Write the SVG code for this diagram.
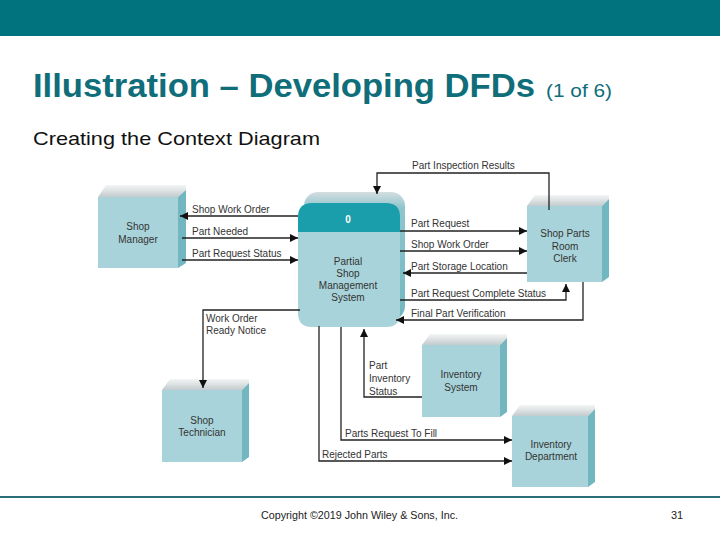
<svg xmlns="http://www.w3.org/2000/svg" width="720" height="540" viewBox="0 0 720 540">
<style>
.lbl{font-family:"Liberation Sans",Arial,sans-serif;font-size:10px;fill:#333}
.ntx{font-family:"Liberation Sans",Arial,sans-serif;font-size:10px;fill:#333;text-anchor:middle}
.front{fill:#A9D3DA}
.side{fill:#72B6C0}
.top{fill:url(#topg)}
.flow{fill:none;stroke:#222;stroke-width:1.3;marker-end:url(#ah)}
</style>
<defs>
<linearGradient id="topg" x1="0" y1="0" x2="0" y2="1">
<stop offset="0" stop-color="#F4F6F6"/>
<stop offset="1" stop-color="#C3CBCD"/>
</linearGradient>
<linearGradient id="procback" x1="0" y1="0" x2="0" y2="1">
<stop offset="0" stop-color="#D5DEE0"/>
<stop offset="0.12" stop-color="#8FC6CE"/>
<stop offset="1" stop-color="#72B6C0"/>
</linearGradient>
<marker id="ah" markerUnits="userSpaceOnUse" markerWidth="9" markerHeight="8" refX="8" refY="4" orient="auto">
<path d="M0,0 L8,4 L0,8 Z" fill="#111"/>
</marker>
</defs>
<rect x="0" y="0" width="720" height="36" fill="#00737F"/>
<text x="33" y="97" font-family="Liberation Sans,Arial,sans-serif" font-weight="bold" font-size="34" fill="#0F6E7A" textLength="502" lengthAdjust="spacingAndGlyphs">Illustration – Developing DFDs</text>
<text x="546" y="97" font-family="Liberation Sans,Arial,sans-serif" font-size="19" fill="#0F6E7A" textLength="66" lengthAdjust="spacingAndGlyphs">(1 of 6)</text>
<text x="33" y="145" font-family="Liberation Sans,Arial,sans-serif" font-size="19" fill="#111" textLength="287" lengthAdjust="spacingAndGlyphs">Creating the Context Diagram</text>

<g id="shop-manager">
<polygon class="top" points="98,197 106,185 186,185 186,190 178,197"/>
<polygon class="side" points="178,197 186,190 186,263 178,268"/>
<rect class="front" x="98" y="197" width="80" height="71"/>
<text class="ntx" x="138" y="230">Shop</text>
<text class="ntx" x="138" y="243">Manager</text>
</g>

<g id="process-0">
<rect x="304" y="192" width="101" height="128" rx="14" fill="url(#procback)"/>
<path d="M298,232 V217 Q298,203 312,203 H386 Q400,203 400,217 V232 Z" fill="#1B9EAB"/>
<path d="M298,232 H400 V313 Q400,327 386,327 H312 Q298,327 298,313 Z" fill="#A9D3DA"/>
<text x="348" y="223" font-family="Liberation Sans,Arial,sans-serif" font-size="10" font-weight="bold" fill="#fff" text-anchor="middle">0</text>
<text class="ntx" x="348" y="265">Partial</text>
<text class="ntx" x="348" y="277">Shop</text>
<text class="ntx" x="348" y="289">Management</text>
<text class="ntx" x="348" y="301">System</text>
</g>

<g id="shop-parts-room-clerk">
<polygon class="top" points="527,206 535,195 609,195 609,199 602,206"/>
<polygon class="side" points="602,206 609,199 609,277 602,282"/>
<rect class="front" x="527" y="206" width="75" height="76"/>
<text class="ntx" x="565" y="237">Shop Parts</text>
<text class="ntx" x="565" y="250">Room</text>
<text class="ntx" x="565" y="262">Clerk</text>
</g>

<g id="inventory-system">
<polygon class="top" points="422,345 430,334 507,334 507,338 500,345"/>
<polygon class="side" points="500,345 507,338 507,412 500,417"/>
<rect class="front" x="422" y="345" width="78" height="72"/>
<text class="ntx" x="461" y="378">Inventory</text>
<text class="ntx" x="461" y="391">System</text>
</g>

<g id="inventory-department">
<polygon class="top" points="512,416 520,405 595,405 595,409 588,416"/>
<polygon class="side" points="588,416 595,409 595,482 588,487"/>
<rect class="front" x="512" y="416" width="76" height="71"/>
<text class="ntx" x="551" y="448">Inventory</text>
<text class="ntx" x="551" y="460">Department</text>
</g>

<g id="shop-technician">
<polygon class="top" points="162,390 170,379 249,379 249,383 242,390"/>
<polygon class="side" points="242,390 249,383 249,457 242,462"/>
<rect class="front" x="162" y="390" width="80" height="72"/>
<text class="ntx" x="202" y="424">Shop</text>
<text class="ntx" x="202" y="436">Technician</text>
</g>

<g id="connectors">
<polyline class="flow" points="549,210 549,173 377,173 377,194"/>
<polyline class="flow" points="298,216 180,216"/>
<polyline class="flow" points="182,238 298,238"/>
<polyline class="flow" points="182,260 298,260"/>
<polyline class="flow" points="400,231 527,231"/>
<polyline class="flow" points="400,251 527,251"/>
<polyline class="flow" points="527,273 403,273"/>
<polyline class="flow" points="400,300 566,300 566,284"/>
<polyline class="flow" points="583,282 583,320 396,320"/>
<polyline class="flow" points="300,310 203,310 203,388"/>
<polyline class="flow" points="422,397 364,397 364,329"/>
<polyline class="flow" points="341,327 341,440 512,440"/>
<polyline class="flow" points="319,326 319,461 512,461"/>
<text class="lbl" x="412" y="169">Part Inspection Results</text>
<text class="lbl" x="192" y="213">Shop Work Order</text>
<text class="lbl" x="192" y="235">Part Needed</text>
<text class="lbl" x="192" y="257">Part Request Status</text>
<text class="lbl" x="411" y="227">Part Request</text>
<text class="lbl" x="411" y="248">Shop Work Order</text>
<text class="lbl" x="411" y="270">Part Storage Location</text>
<text class="lbl" x="411" y="297">Part Request Complete Status</text>
<text class="lbl" x="411" y="317">Final Part Verification</text>
<text class="lbl" x="206" y="322">Work Order</text>
<text class="lbl" x="206" y="334">Ready Notice</text>
<text class="lbl" x="369" y="369">Part</text>
<text class="lbl" x="369" y="382">Inventory</text>
<text class="lbl" x="369" y="395">Status</text>
<text class="lbl" x="345" y="437">Parts Request To Fill</text>
<text class="lbl" x="322" y="458">Rejected Parts</text>
</g>

<rect x="0" y="496" width="720" height="2" fill="#2A6F78"/>
<text x="261" y="519" font-family="Liberation Sans,Arial,sans-serif" font-size="11" fill="#222" textLength="197" lengthAdjust="spacingAndGlyphs">Copyright ©2019 John Wiley &amp; Sons, Inc.</text>
<text x="671" y="519" font-family="Liberation Sans,Arial,sans-serif" font-size="11" fill="#222">31</text>
</svg>
